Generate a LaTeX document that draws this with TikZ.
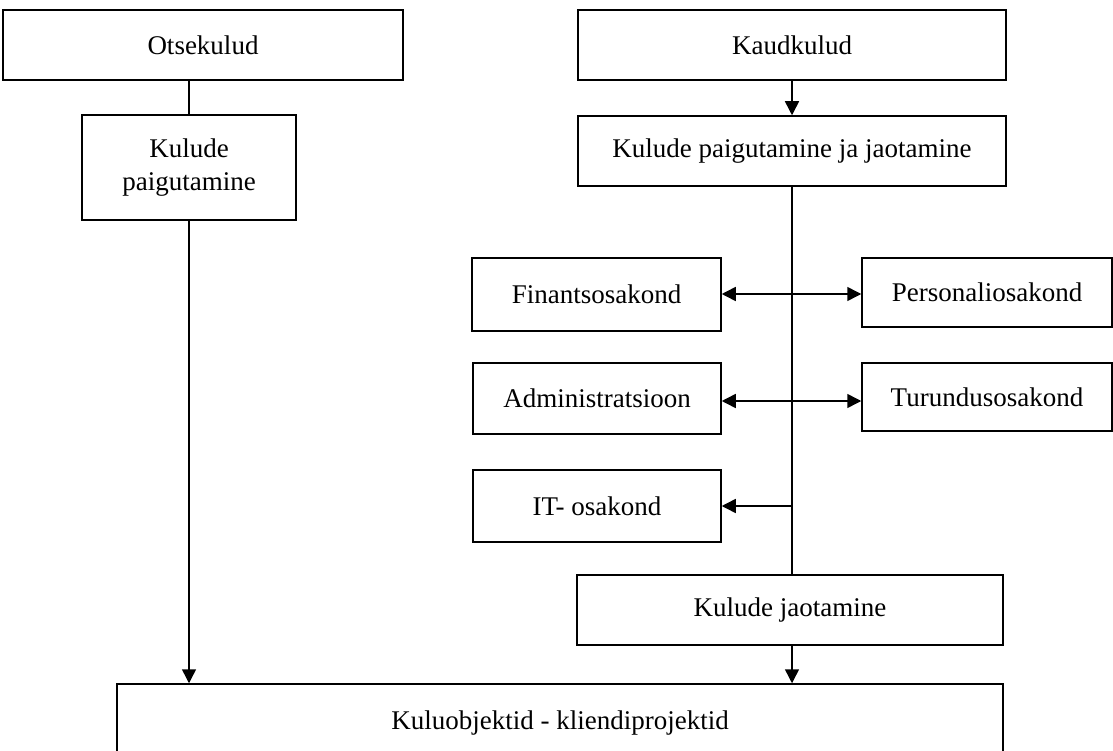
\documentclass[tikz,border=0pt]{standalone}
\usepackage{fontspec}
\setmainfont{Liberation Serif}
\usetikzlibrary{arrows.meta}
\begin{document}
\begin{tikzpicture}[x=1pt,y=-1pt,
  box/.style={draw=black, line width=1.5pt, fill=white, inner sep=0pt, align=center,
    font=\fontsize{27}{33}\selectfont},
  conn/.style={line width=1.5pt, draw=black},
  arr/.style={conn, -{Triangle[length=14pt,width=14pt]}}]
\useasboundingbox (0,0) rectangle (1113,751);
\node[box, minimum width=400pt, minimum height=70pt] (ots) at (203,45) {Otsekulud};
\node[box, minimum width=428pt, minimum height=70pt] (kaud) at (792,45) {Kaudkulud};
\node[box, minimum width=214pt, minimum height=105pt] (kp) at (189,167.5) {Kulude\\paigutamine};
\node[box, minimum width=428pt, minimum height=70pt] (kpj) at (792,151) {Kulude paigutamine ja jaotamine};
\node[box, minimum width=249pt, minimum height=73pt] (fin) at (596.5,294.5) {Finantsosakond};
\node[box, minimum width=250pt, minimum height=69pt] (per) at (987,292.5) {Personaliosakond};
\node[box, minimum width=248pt, minimum height=71pt] (adm) at (597,398.5) {Administratsioon};
\node[box, minimum width=250pt, minimum height=68pt] (tur) at (987,397) {Turundusosakond};
\node[box, minimum width=248pt, minimum height=72pt] (it) at (597,506) {IT- osakond};
\node[box, minimum width=426pt, minimum height=70pt] (kj) at (790,610) {Kulude jaotamine};
\node[box, minimum width=886pt, minimum height=78pt] (kob) at (560,723) {Kuluobjektid - kliendiprojektid};
\coordinate (t1) at (792,294);
\coordinate (t2) at (792,401);
\coordinate (t3) at (792,506);
% left column
\draw[conn] (kp.north |- ots.south) -- (kp.north);
\draw[arr] (kp.south) -- (kp.south |- kob.north);
% right column
\draw[arr] (kaud) -- (kpj);
\draw[conn] (kpj.south) -- (kpj.south |- kj.north);
\draw[arr] (t1) -- (fin.east |- t1);
\draw[arr] (t1) -- (per.west |- t1);
\draw[arr] (t2) -- (adm.east |- t2);
\draw[arr] (t2) -- (tur.west |- t2);
\draw[arr] (t3) -- (it.east |- t3);
\draw[arr] (kpj.south |- kj.south) -- (kpj.south |- kob.north);
\end{tikzpicture}
\end{document}
